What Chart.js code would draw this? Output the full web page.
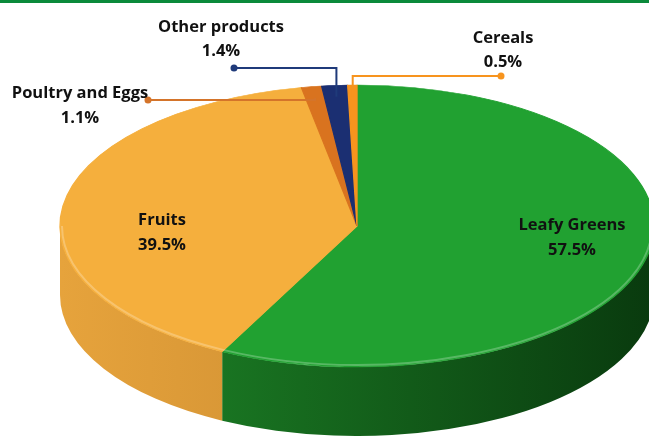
<!DOCTYPE html>
<html>
<head>
<meta charset="utf-8">
<script src="https://cdn.jsdelivr.net/npm/chart.js@4"></script>
<style>
  body { margin: 0; background: #fff; }
  #wrap { position: relative; width: 649px; height: 436px; overflow: hidden; }
  #topbar { position: absolute; left: 0; top: 0; width: 649px; height: 3px; background: #0b8a3b; }
</style>
</head>
<body>
<div id="wrap">
  <canvas id="chart" width="649" height="436"></canvas>
  <div id="topbar"></div>
</div>
<script>
// data
const categories = ['Leafy Greens', 'Fruits', 'Poultry and Eggs', 'Other products', 'Cereals'];
const shares = [57.5, 39.5, 1.1, 1.4, 0.5];
const valueLabels = ['57.5%', '39.5%', '1.1%', '1.4%', '0.5%'];

// styles
const topColors = ['#21a131', '#f5af3d', '#d9731f', '#1b2f72', '#f7941e'];
const sideLight = ['#1f8a29', '#e6a33c', '#c4661a', '#17275e', '#e0841a'];
const sideDark  = ['#093a0e', '#b87b28', '#8a4510', '#0d1840', '#a85f10'];
const lineColors = ['#21a131', '#f5af3d', '#d4742a', '#1f3a7a', '#f7941e'];

// where the flattened pie sits on the page
const VIEW = { x: 357, y: 226, rx: 297, ry: 141, depth: 69 };

// label layout: text centre, two lines; callouts get a dot and an elbow line
const labelLayout = [
  { x: 572, y1: 225, y2: 250 },
  { x: 162, y1: 220, y2: 245 },
  { x: 80,  y1: 93,  y2: 118, dot: [148, 100] },
  { x: 221, y1: 27,  y2: 51,  dot: [234, 68] },
  { x: 503, y1: 38,  y2: 62,  dot: [501, 76] }
];

// map a point of the round Chart.js pie onto the flattened one
function project(chart, px, py) {
  const arc = chart.getDatasetMeta(0).data[0];
  const R = arc.outerRadius;
  return [VIEW.x + (px - arc.x) * VIEW.rx / R, VIEW.y + (py - arc.y) * VIEW.ry / R];
}

const pie3d = {
  id: 'pie3d',
  beforeDatasetsDraw(chart) {
    const ctx = chart.ctx;
    const arcs = chart.getDatasetMeta(0).data;
    // side walls (front half only)
    arcs.forEach((arc, i) => {
      const s = Math.max(arc.startAngle, 0);
      const e = Math.min(arc.endAngle, Math.PI);
      if (s >= e) return;
      ctx.save();
      ctx.beginPath();
      ctx.ellipse(VIEW.x, VIEW.y, VIEW.rx, VIEW.ry, 0, s, e);
      ctx.ellipse(VIEW.x, VIEW.y + VIEW.depth, VIEW.rx, VIEW.ry, 0, e, s, true);
      ctx.closePath();
      const g = ctx.createLinearGradient(VIEW.x - VIEW.rx, 0, VIEW.x + VIEW.rx, 0);
      g.addColorStop(0, sideLight[i]);
      g.addColorStop(1, sideDark[i]);
      ctx.fillStyle = g;
      ctx.fill();
      ctx.restore();
    });
    // squash the top face
    const a = arcs[0];
    ctx.save();
    ctx.translate(VIEW.x, VIEW.y);
    ctx.scale(VIEW.rx / a.outerRadius, VIEW.ry / a.outerRadius);
    ctx.translate(-a.x, -a.y);
  },
  afterDatasetsDraw(chart) {
    const ctx = chart.ctx;
    ctx.restore();
    const arcs = chart.getDatasetMeta(0).data;

    // light rim on the front edge
    arcs.forEach((arc) => {
      const s = Math.max(arc.startAngle, 0);
      const e = Math.min(arc.endAngle, Math.PI);
      if (s >= e) return;
      ctx.save();
      ctx.beginPath();
      ctx.ellipse(VIEW.x, VIEW.y, VIEW.rx - 2, VIEW.ry - 2, 0, s, e);
      ctx.strokeStyle = 'rgba(255,255,255,0.25)';
      ctx.lineWidth = 2;
      ctx.stroke();
      ctx.restore();
    });

    // labels
    ctx.save();
    ctx.font = 'bold 16.5px "Open Sans"';
    ctx.fillStyle = '#111';
    ctx.textAlign = 'center';
    ctx.textBaseline = 'middle';
    arcs.forEach((arc, i) => {
      const L = labelLayout[i];
      if (L.dot) {
        const mid = (arc.startAngle + arc.endAngle) / 2;
        const r = arc.outerRadius * 0.92;
        const [ex, ey] = project(chart, arc.x + Math.cos(mid) * r, arc.y + Math.sin(mid) * r);
        ctx.strokeStyle = lineColors[i];
        ctx.lineWidth = 2;
        ctx.beginPath();
        ctx.moveTo(L.dot[0], L.dot[1]);
        ctx.lineTo(ex, L.dot[1]);
        ctx.lineTo(ex, ey);
        ctx.stroke();
        ctx.fillStyle = lineColors[i];
        ctx.beginPath();
        ctx.arc(L.dot[0], L.dot[1], 3.5, 0, Math.PI * 2);
        ctx.fill();
        ctx.fillStyle = '#111';
      }
      ctx.fillText(categories[i], L.x, L.y1);
      ctx.fillText(valueLabels[i], L.x, L.y2);
    });
    ctx.restore();
  }
};

new Chart(document.getElementById('chart'), {
  type: 'pie',
  data: {
    labels: categories,
    datasets: [{
      data: shares,
      backgroundColor: topColors,
      borderColor: topColors,
      borderWidth: 1,
      clip: false
    }]
  },
  options: {
    responsive: false,
    devicePixelRatio: 1,
    animation: false,
    events: [],
    plugins: {
      legend: { display: false },
      tooltip: { enabled: false }
    }
  },
  plugins: [pie3d]
});
</script>
</body>
</html>
